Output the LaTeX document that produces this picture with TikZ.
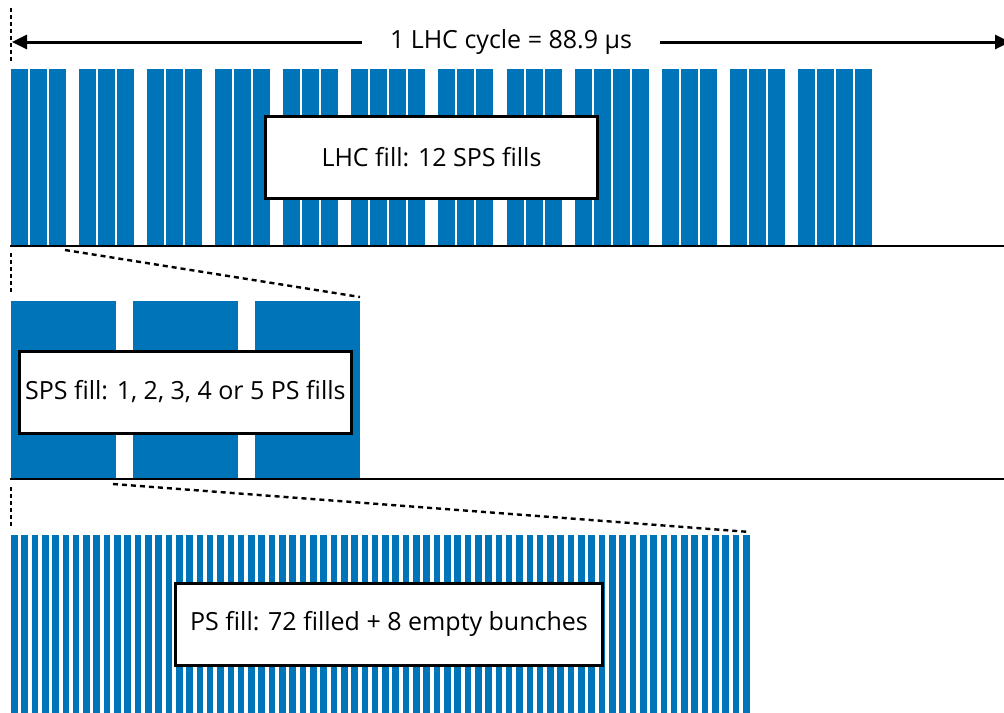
\documentclass[tikz,border=0pt]{standalone}
\usepackage{fontspec}
\setmainfont{Open Sans}
\usetikzlibrary{arrows.meta}
\definecolor{bunch}{RGB}{0,116,185}
\begin{document}
\begin{tikzpicture}[x=0.5pt, y=-0.5pt,
  bar/.style={fill=bunch},
  lbl/.style={draw=black, line width=1.5pt, fill=white, minimum height=41pt, inner sep=0pt, font=\fontsize{12.5}{14}\selectfont},
  base/.style={black, line width=1pt},
  zoomline/.style={black, line width=1.2pt, dash pattern=on 2.5pt off 2pt},
  edge/.style={black, line width=1.2pt, dash pattern=on 2pt off 1.5pt},
  arr/.style={black, line width=1.5pt, -{Triangle[length=7.5pt, width=7pt]}}]
\clip (0,0) rectangle (1004,712);
% LHC fill: 12 SPS fills
\foreach \gx/\n in {11/3,79/3,147/3,215/3,283/3,351/4,438/3,507/3,575/4,662/3,730/3,798/4}
  \foreach \k in {1,...,\n}
    \fill[bar] ({\gx+(\k-1)*19},69) rectangle ++(17,177);
\draw[base] (10,246) -- (1004,246);
% SPS fill
\foreach \bx in {11,133,255}
  \fill[bar] (\bx,301) rectangle ++(105,178);
\draw[base] (10,479) -- (1004,479);
% PS fill
\foreach \k in {0,...,71}
  \fill[bar] ({11+\k*10.31},535) rectangle ++(6.6,180);
% cycle arrow
\node[minimum width=149pt, inner sep=0pt, font=\fontsize{12.5}{14}\selectfont] (cyc) at (511,42) {1 LHC cycle = 88.9 μs};
\coordinate (cl) at (12,42);
\coordinate (cr) at (1010,42);
\draw[arr] (cyc.west) -- (cl);
\draw[arr] (cyc.east) -- (cr);
% zoom lines
\coordinate (t0) at (11,8);
\coordinate (t1) at (11,62);
\coordinate (m0) at (11,253);
\coordinate (m1) at (11,294);
\coordinate (p0) at (11,487);
\coordinate (p1) at (11,528);
\draw[edge] (t0) -- (t1);
\draw[edge] (m0) -- (m1);
\draw[edge] (p0) -- (p1);
\coordinate (g1) at (65,250);
\coordinate (s3) at (360,297);
\coordinate (s1) at (113,484);
\coordinate (pe) at (750,532);
\draw[zoomline] (g1) -- (s3);
\draw[zoomline] (s1) -- (pe);
% labels
\node[lbl, minimum width=166pt] (lhc) at (431.5,157.5) {LHC fill: 12 SPS fills};
\node[lbl, minimum width=166pt] (sps) at (185.3,392) {SPS fill: 1, 2, 3, 4 or 5 PS fills};
\node[lbl, minimum width=213.5pt] (ps) at (389,624) {PS fill: 72 filled + 8 empty bunches};
\end{tikzpicture}
\end{document}
